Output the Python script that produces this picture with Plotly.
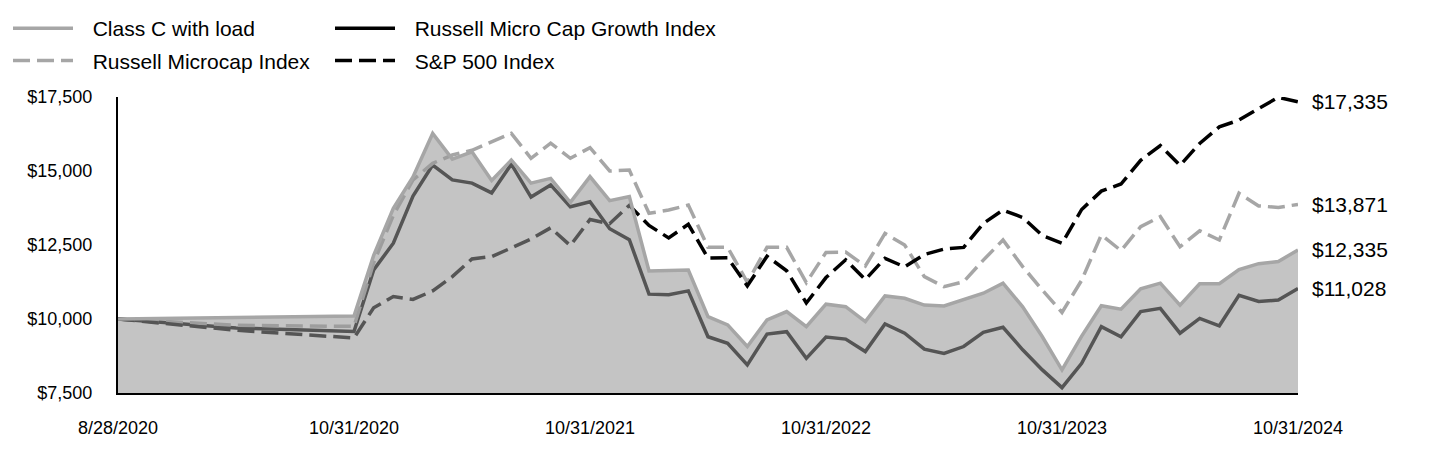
import pandas as pd
import plotly.graph_objects as go

# 8/28/2020 start, then month ends through 10/31/2024
dates = ["8/28/2020"] + [f"{d.month}/{d.day}/{d.year}" for d in pd.date_range("2020-09-30", "2024-10-31", freq="ME")]
tick_labels = ["8/28/2020", "10/31/2020", "10/31/2021", "10/31/2022", "10/31/2023", "10/31/2024"]

class_c = [10000, 10060, 10100, 12150, 13740, 14800, 16270, 15400, 15650, 14680,
           15370, 14590, 14750, 13940, 14810, 14000, 14140, 11620, 11640, 11655,
           10080, 9800, 9070, 9970, 10250, 9740, 10500, 10415, 9910, 10780,
           10700, 10470, 10440, 10660, 10870, 11210, 10410, 9400, 8280, 9420,
           10450, 10330, 11020, 11210, 10470, 11190, 11190, 11670, 11870, 11940,
           12335]
growth = [10000, 9700, 9575, 11660, 12560, 14150, 15200, 14700, 14590, 14260,
          15230, 14120, 14530, 13790, 13960, 13050, 12680, 10840, 10820, 10950,
          9400, 9180, 8450, 9490, 9570, 8670, 9390, 9320, 8900, 9830,
          9520, 8980, 8840, 9070, 9550, 9720, 8960, 8280, 7680, 8500,
          9740, 9400, 10250, 10360, 9520, 10020, 9770, 10800, 10590, 10640,
          11028]
microcap = [10000, 9790, 9750, 11900, 13500, 14700, 15260, 15540, 15700, 15990,
            16270, 15430, 15940, 15430, 15790, 15000, 15030, 13570, 13680, 13850,
            12420, 12420, 11240, 12420, 12420, 11230, 12250, 12260, 11790, 12890,
            12500, 11430, 11090, 11260, 11990, 12670, 11770, 10980, 10220, 11310,
            12840, 12310, 13120, 13460, 12440, 12980, 12670, 14250, 13820, 13770,
            13871]
sp500 = [10000, 9620, 9360, 10380, 10760, 10660, 10950, 11430, 12030, 12110,
         12400, 12700, 13080, 12480, 13360, 13220, 13840, 13160, 12740, 13200,
         12060, 12070, 11120, 12120, 11630, 10540, 11400, 12000, 11330, 12050,
         11760, 12180, 12360, 12420, 13230, 13680, 13430, 12820, 12560, 13700,
         14320, 14560, 15360, 15860, 15190, 15930, 16490, 16720, 17110, 17490,
         17335]

# first two steps (8/28 -> 9/30 -> 10/31/2020) are stretched over a year's width
xpos = [0, 6] + list(range(12, 61))
tickvals = [xpos[dates.index(t)] for t in tick_labels]

FONT = "Liberation Sans, Arial, sans-serif"
LIGHT = "#a6a6a6"
DASH = "17px,7px"
PAD = "\u2002\u2009"  # a little room between legend line and text

fig = go.Figure()
fig.add_trace(go.Scatter(x=xpos, y=growth, name=PAD + "Russell Micro Cap Growth Index", mode="lines",
                         line=dict(color="black", width=3.5), legend="legend2", legendrank=1,
                         legendgroup="g"))
fig.add_trace(go.Scatter(x=xpos, y=microcap, name=PAD + "Russell Microcap Index", mode="lines",
                         line=dict(color=LIGHT, width=3.5, dash=DASH), legend="legend", legendrank=2,
                         legendgroup="m"))
fig.add_trace(go.Scatter(x=xpos, y=sp500, name=PAD + "S&P 500 Index", mode="lines",
                         line=dict(color="black", width=3.5, dash=DASH), legend="legend2", legendrank=2,
                         legendgroup="s"))
# translucent area over the index lines
fig.add_trace(go.Scatter(x=xpos, y=class_c, mode="none", fill="tozeroy",
                         fillcolor="rgba(150,150,150,0.565)", showlegend=False, hoverinfo="skip"))
fig.add_trace(go.Scatter(x=xpos, y=class_c, name=PAD + "Class C with load", mode="lines",
                         line=dict(color=LIGHT, width=3.5), legend="legend", legendrank=1,
                         legendgroup="c"))

for series in [sp500, microcap, class_c, growth]:
    fig.add_annotation(x=xpos[-1], y=series[-1], text=f"${series[-1]:,.0f}", showarrow=False,
                       xanchor="left", yanchor="middle", xshift=12,
                       font=dict(family=FONT, size=21, color="black"))

legend_style = dict(xref="container", yref="container", yanchor="top", xanchor="left",
                    orientation="v", font=dict(family=FONT, size=21, color="black"),
                    bgcolor="rgba(0,0,0,0)", itemwidth=60, tracegroupgap=2)

# page body adds an 8px offset, so margins are trimmed to keep the plot at the same spot
fig.update_layout(
    width=1440, height=468,
    margin=dict(l=110, r=150, t=89, b=83, autoexpand=False),
    plot_bgcolor="white", paper_bgcolor="white",
    font=dict(family=FONT, size=18, color="black"),
    showlegend=True,
    legend=dict(x=0.0, y=1.0, **legend_style),
    legend2=dict(x=322 / 1440, y=1.0, **legend_style),
    xaxis=dict(range=[0, 60], tickvals=tickvals, ticktext=tick_labels, showgrid=False,
               zeroline=False, showline=True, linecolor="black", linewidth=2, ticks="",
               ticklabelstandoff=17, tickfont=dict(size=18)),
    yaxis=dict(range=[7500, 17500], tickvals=[7500, 10000, 12500, 15000, 17500],
               tickformat="$,.0f", showgrid=False, zeroline=False, showline=True,
               linecolor="black", linewidth=2, ticks="", ticklabelstandoff=20,
               layer="below traces", tickfont=dict(size=18)),
)

fig.write_html("out.html")
